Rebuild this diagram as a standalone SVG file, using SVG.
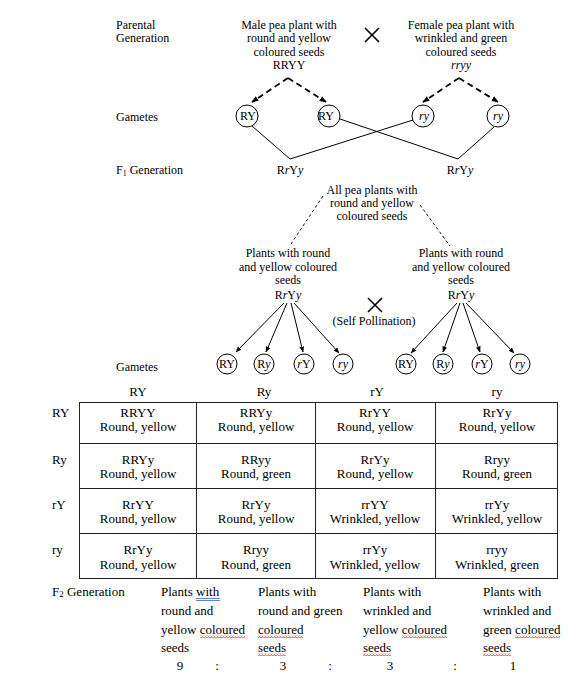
<svg xmlns="http://www.w3.org/2000/svg" width="580" height="684" viewBox="0 0 580 684">
<style>
text{font-family:"Liberation Serif","Times New Roman",serif;fill:#000}
.t{font-size:12px}
.m{font-size:12px;text-anchor:middle}
.c{font-size:13px;text-anchor:middle}
.b{font-size:13px}
.i{font-style:italic}
.gc{fill:#fff;stroke:#000;stroke-width:1}
.sl{stroke:#000;stroke-width:1;fill:none}
.dk{stroke:#000;stroke-width:1.8;fill:none;stroke-dasharray:6,4}
.dt{stroke:#000;stroke-width:0.9;fill:none;stroke-dasharray:3,2.5}
.ar{stroke:#000;stroke-width:1;fill:none}
.grid{stroke:#222;stroke-width:1;fill:none}
.x{stroke:#000;stroke-width:1.6}
</style>
<defs>
<marker id="ah" viewBox="0 0 10 10" refX="9" refY="5" markerWidth="7" markerHeight="7" markerUnits="userSpaceOnUse" orient="auto"><path d="M0,1 L10,5 L0,9 Z" fill="#000"/></marker>
<marker id="as" viewBox="0 0 10 10" refX="9" refY="5" markerWidth="6" markerHeight="6" markerUnits="userSpaceOnUse" orient="auto"><path d="M0,1 L10,5 L0,9 Z" fill="#000"/></marker>
<pattern id="wavy" x="0" y="0" width="3" height="3" patternUnits="userSpaceOnUse"><path d="M0,2.5 L1.5,0.5 L3,2.5" stroke="#d22" stroke-width="0.8" fill="none"/></pattern>
</defs>

<g id="labels">
<text class="t" x="116" y="29">Parental</text>
<text class="t" x="116" y="42">Generation</text>
<text class="t" x="116" y="121">Gametes</text>
<text class="t" x="116" y="174">F<tspan font-size="8" dy="2">1</tspan><tspan dy="-2"> Generation</tspan></text>
<text class="t" x="116" y="371">Gametes</text>
</g>

<g id="male">
<text class="m" x="289" y="29">Male pea plant with</text>
<text class="m" x="289" y="42">round and yellow</text>
<text class="m" x="289" y="56">coloured seeds</text>
<text class="m" x="289" y="69">RRYY</text>
</g>
<g id="cross1"><path class="x" d="M365,28 L379,42 M379,28 L365,42"/></g>
<g id="female">
<text class="m" x="461" y="29">Female pea plant with</text>
<text class="m" x="461" y="42">wrinkled and green</text>
<text class="m" x="461" y="56">coloured seeds</text>
<text class="m i" x="461" y="69">rryy</text>
</g>

<g id="gametes1">
<circle class="gc" cx="247" cy="116" r="11"/><text class="m" x="248" y="120">RY</text>
<circle class="gc" cx="329" cy="116" r="11"/><text class="m" x="326" y="120">RY</text>
<circle class="gc" cx="423" cy="116" r="11"/><text class="m i" x="424" y="120">ry</text>
<circle class="gc" cx="498" cy="116" r="11"/><text class="m i" x="498" y="120">ry</text>
</g>

<g id="f1">
<text class="m" x="290" y="174">R<tspan class="i">r</tspan>Y<tspan class="i">y</tspan></text>
<text class="m" x="460" y="174">R<tspan class="i">r</tspan>Y<tspan class="i">y</tspan></text>
</g>

<g id="allplants">
<text class="m" x="372" y="194">All pea plants with</text>
<text class="m" x="372" y="207">round and yellow</text>
<text class="m" x="372" y="220">coloured seeds</text>
</g>

<g id="plantsL">
<text class="m" x="288" y="257">Plants with round</text>
<text class="m" x="288" y="271">and yellow coloured</text>
<text class="m" x="288" y="284">seeds</text>
<text class="m" x="288" y="299">R<tspan class="i">r</tspan>Y<tspan class="i">y</tspan></text>
</g>
<g id="plantsR">
<text class="m" x="461" y="257">Plants with round</text>
<text class="m" x="461" y="271">and yellow coloured</text>
<text class="m" x="461" y="284">seeds</text>
<text class="m" x="461" y="299">R<tspan class="i">r</tspan>Y<tspan class="i">y</tspan></text>
</g>
<g id="cross2">
<path class="x" d="M368,298 L382,312 M382,298 L368,312"/>
<text class="m" x="374" y="325">(Self Pollination)</text>
</g>

<g id="gametes2">
<circle class="gc" cx="227" cy="364" r="10"/><text class="m" x="227" y="368">RY</text>
<circle class="gc" cx="264" cy="364" r="10"/><text class="m" x="264" y="368">R<tspan class="i">y</tspan></text>
<circle class="gc" cx="304" cy="364" r="10"/><text class="m" x="304" y="368"><tspan class="i">r</tspan>Y</text>
<circle class="gc" cx="343" cy="364" r="10"/><text class="m i" x="343" y="368">ry</text>
<circle class="gc" cx="406" cy="364" r="10"/><text class="m" x="406" y="368">RY</text>
<circle class="gc" cx="443" cy="364" r="10"/><text class="m" x="443" y="368">R<tspan class="i">y</tspan></text>
<circle class="gc" cx="482" cy="364" r="10"/><text class="m" x="482" y="368"><tspan class="i">r</tspan>Y</text>
<circle class="gc" cx="520" cy="364" r="10"/><text class="m i" x="520" y="368">ry</text>
</g>

<g id="connectors">
<path class="dk" d="M288,78 L252,102" marker-end="url(#ah)"/>
<path class="dk" d="M288,78 L326,102" marker-end="url(#ah)"/>
<path class="dk" d="M459,78 L423,102" marker-end="url(#ah)"/>
<path class="dk" d="M459,78 L498,102" marker-end="url(#ah)"/>
<path class="sl" d="M252,126 L290,159 L413,120"/>
<path class="sl" d="M340,119 L458,159 L494,127"/>
<path class="dt" d="M323,196 L291,244"/>
<path class="dt" d="M420,205 L450,246"/>
<path class="ar" d="M284,303 L236,352" marker-end="url(#as)"/>
<path class="ar" d="M287,303 L266,352" marker-end="url(#as)"/>
<path class="ar" d="M291,303 L303,352" marker-end="url(#as)"/>
<path class="ar" d="M294,303 L339,353" marker-end="url(#as)"/>
<path class="ar" d="M457,303 L411,353" marker-end="url(#as)"/>
<path class="ar" d="M460,303 L443,352" marker-end="url(#as)"/>
<path class="ar" d="M463,303 L480,352" marker-end="url(#as)"/>
<path class="ar" d="M466,303 L514,353" marker-end="url(#as)"/>
</g>

<g id="punnett">
<text class="c" x="138" y="396">RY</text>
<text class="c" x="264" y="396">Ry</text>
<text class="c" x="377" y="396">rY</text>
<text class="c" x="497" y="396">ry</text>
<text class="b" x="52" y="417">RY</text>
<text class="b" x="52" y="464">Ry</text>
<text class="b" x="52" y="509">rY</text>
<text class="b" x="52" y="554">ry</text>
<rect class="grid" x="79.5" y="402.5" width="478" height="176"/>
<path class="grid" d="M196.5,402.5 V578.5 M315.5,402.5 V578.5 M435.5,402.5 V578.5 M79.5,443.5 H557.5 M79.5,488.5 H557.5 M79.5,533.5 H557.5"/>
<text class="c" x="138" y="417">RRYY</text><text class="c" x="138" y="431">Round, yellow</text>
<text class="c" x="256" y="417">RRYy</text><text class="c" x="256" y="431">Round, yellow</text>
<text class="c" x="375" y="417">RrYY</text><text class="c" x="375" y="431">Round, yellow</text>
<text class="c" x="497" y="417">RrYy</text><text class="c" x="497" y="431">Round, yellow</text>
<text class="c" x="138" y="464">RRYy</text><text class="c" x="138" y="478">Round, yellow</text>
<text class="c" x="256" y="464">RRyy</text><text class="c" x="256" y="478">Round, green</text>
<text class="c" x="375" y="464">RrYy</text><text class="c" x="375" y="478">Round, yellow</text>
<text class="c" x="497" y="464">Rryy</text><text class="c" x="497" y="478">Round, green</text>
<text class="c" x="138" y="509">RrYY</text><text class="c" x="138" y="523">Round, yellow</text>
<text class="c" x="256" y="509">RrYy</text><text class="c" x="256" y="523">Round, yellow</text>
<text class="c" x="375" y="509">rrYY</text><text class="c" x="375" y="523">Wrinkled, yellow</text>
<text class="c" x="497" y="509">rrYy</text><text class="c" x="497" y="523">Wrinkled, yellow</text>
<text class="c" x="138" y="554">RrYy</text><text class="c" x="138" y="569">Round, yellow</text>
<text class="c" x="256" y="554">Rryy</text><text class="c" x="256" y="569">Round, green</text>
<text class="c" x="375" y="554">rrYy</text><text class="c" x="375" y="569">Wrinkled, yellow</text>
<text class="c" x="497" y="554">rryy</text><text class="c" x="497" y="569">Wrinkled, green</text>
</g>

<g id="f2">
<text class="b" x="52" y="596">F<tspan font-size="9" dy="1">2</tspan><tspan dy="-1"> Generation</tspan></text>
<text class="b" x="161" y="596">Plants with</text>
<text class="b" x="161" y="615">round and</text>
<text class="b" x="161" y="634">yellow coloured</text>
<text class="b" x="161" y="652">seeds</text>
<text class="b" x="258" y="596">Plants with</text>
<text class="b" x="258" y="615">round and green</text>
<text class="b" x="258" y="634">coloured</text>
<text class="b" x="258" y="652">seeds</text>
<text class="b" x="363" y="596">Plants with</text>
<text class="b" x="363" y="615">wrinkled and</text>
<text class="b" x="363" y="634">yellow coloured</text>
<text class="b" x="363" y="652">seeds</text>
<text class="b" x="483" y="596">Plants with</text>
<text class="b" x="483" y="615">wrinkled and</text>
<text class="b" x="483" y="634">green coloured</text>
<text class="b" x="483" y="652">seeds</text>
<text class="c" x="180" y="670">9</text>
<text class="c" x="217" y="670">:</text>
<text class="c" x="283" y="670">3</text>
<text class="c" x="330" y="670">:</text>
<text class="c" x="390" y="670">3</text>
<text class="c" x="455" y="670">:</text>
<text class="c" x="513" y="670">1</text>
<path d="M196,598.5 H220 M196,600.5 H220" stroke="#3a5fcd" stroke-width="0.8"/>
<rect x="200" y="635" width="45" height="3" fill="url(#wavy)"/>
<rect x="258" y="635" width="45" height="3" fill="url(#wavy)"/>
<rect x="258" y="653" width="28" height="3" fill="url(#wavy)"/>
<rect x="402" y="635" width="45" height="3" fill="url(#wavy)"/>
<rect x="363" y="653" width="28" height="3" fill="url(#wavy)"/>
<rect x="515" y="635" width="45" height="3" fill="url(#wavy)"/>
<rect x="483" y="653" width="28" height="3" fill="url(#wavy)"/>
</g>
</svg>
